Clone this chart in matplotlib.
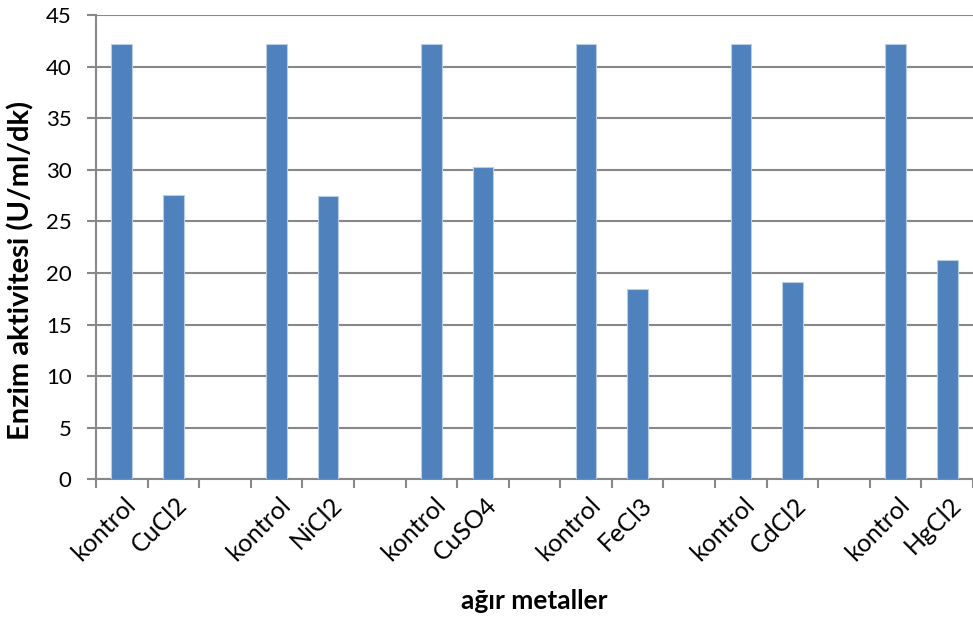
import numpy as np
import matplotlib
matplotlib.use("Agg")
import matplotlib.pyplot as plt
import matplotlib.transforms as mtransforms
from matplotlib.ticker import FixedLocator, MultipleLocator

plt.rcParams['font.family'] = ['Lato', 'DejaVu Sans']

metals = ['CuCl2', 'NiCl2', 'CuSO4', 'FeCl3', 'CdCl2', 'HgCl2']
control_values = [42.2, 42.2, 42.2, 42.2, 42.2, 42.2]
metal_values = [27.55, 27.5, 30.3, 18.45, 19.15, 21.3]
control_label = 'kontrol'

# Build the category axis: kontrol, metal, (blank) for each metal
labels = []
values = []
for i, (m, c, v) in enumerate(zip(metals, control_values, metal_values)):
    labels += [control_label, m]
    values += [c, v]
    if i < len(metals) - 1:
        labels.append('')
        values.append(np.nan)

x = np.arange(len(labels))

fig = plt.figure(figsize=(9.73, 6.2), dpi=100)
ax = fig.add_axes([96 / 973, (620 - 479.3) / 620, (973 - 96) / 973, 464.3 / 620])

bar_color = '#4F81BD'
ax.bar(x, values, width=0.4, color=bar_color, edgecolor='#B9CDE5',
       linewidth=0.8, zorder=3)

ax.set_xlim(-0.5, len(labels) - 0.5)
ax.set_ylim(0, 45)
ax.yaxis.set_major_locator(MultipleLocator(5))
ax.grid(axis='y', color='#888888', linewidth=1.5, zorder=0)
ax.set_axisbelow(True)

for side in ['top', 'right']:
    ax.spines[side].set_visible(False)
for side in ['left', 'bottom']:
    ax.spines[side].set_color('#888888')
    ax.spines[side].set_linewidth(1.5)

ax.set_xticks(x)
ax.set_xticklabels(labels, rotation=45, ha='right', va='top',
                   rotation_mode='anchor', fontsize=18)
ax.tick_params(axis='x', which='major', length=0, pad=10)
shift = mtransforms.ScaledTranslation(2 / 100, 0, fig.dpi_scale_trans)
for lbl in ax.get_xticklabels():
    lbl.set_transform(lbl.get_transform() + shift)
ax.xaxis.set_minor_locator(FixedLocator(np.arange(-0.5, len(labels), 1.0)))
ax.tick_params(axis='x', which='minor', length=6.5, width=1.5, color='#888888')
ax.tick_params(axis='y', length=6.5, width=1.5, color='#888888', labelsize=16, pad=11)

ax.set_ylabel('Enzim aktivitesi (U/ml/dk)', fontsize=21, fontweight='bold', va='center')
ax.yaxis.set_label_coords(21 / 973, (620 - 270) / 620, transform=fig.transFigure)
ax.set_xlabel('ağır metaller', fontsize=19, fontweight='bold', va='center')
ax.xaxis.set_label_coords(534 / 973, (620 - 601) / 620, transform=fig.transFigure)

fig.savefig('out.png', dpi=100)
